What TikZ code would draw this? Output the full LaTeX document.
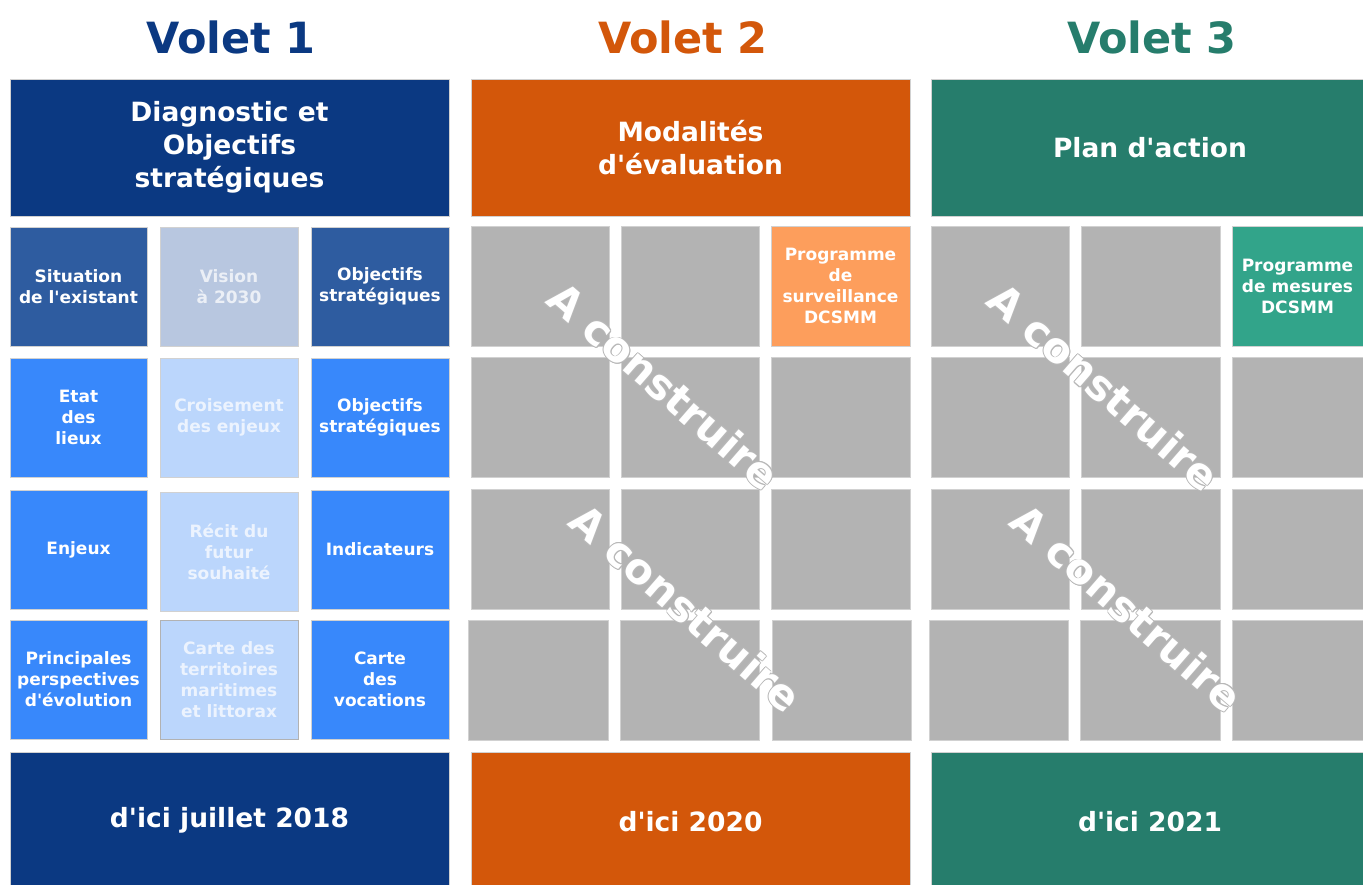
\documentclass[tikz,border=0pt]{standalone}
\usepackage{fontspec}
\setmainfont{DejaVu Sans}[Ligatures=TeXOff]
\usetikzlibrary{calc}

\definecolor{navy}{RGB}{11,57,130}
\definecolor{midblue}{RGB}{46,92,160}
\definecolor{paleblue}{RGB}{184,199,224}
\definecolor{brightblue}{RGB}{56,136,251}
\definecolor{lightblue}{RGB}{187,214,252}
\definecolor{rust}{RGB}{211,87,10}
\definecolor{peach}{RGB}{253,158,92}
\definecolor{volgreen}{RGB}{38,125,108}
\definecolor{mint}{RGB}{50,164,138}
\definecolor{slab}{RGB}{179,179,179}

\tikzset{
  tile/.style={draw=black!18, line width=0.6pt, inner sep=0pt, align=center,
    text=white, font=\fontsize{17}{21}\selectfont\bfseries},
  faint/.style={tile, text opacity=0.72},
  head/.style={tile, font=\fontsize{26.5}{33}\selectfont\bfseries},
  title/.style={inner sep=0pt, font=\fontsize{43}{50}\selectfont\bfseries},
  stamptext/.style={rotate=-41, inner sep=0pt, font=\fontsize{42}{42}\selectfont\bfseries}
}

% style, name, x0, y0, x1, y1, text
\newcommand{\panel}[7]{%
  \pgfmathsetmacro\pw{#5-#3}\pgfmathsetmacro\ph{#6-#4}%
  \pgfmathsetmacro\pcx{(#3+#5)/2}\pgfmathsetmacro\pcy{(#4+#6)/2}%
  \node[#1, minimum width=\pw pt, minimum height=\ph pt] (#2) at (\pcx,\pcy) {#7};}

% diagonal "A construire" label with a thin grey rim
\newcommand{\stamp}[3]{%
  \foreach \a [count=\k] in {0,45,...,315}{%
    \node[stamptext, text=black!28] (#1-rim\k) at ($(#2,#3)+(\a:0.9)$) {A construire};}%
  \node[stamptext, text=white] (#1) at (#2,#3) {A construire};}

\begin{document}
\begin{tikzpicture}[x=1pt, y=-1pt]
\useasboundingbox (0,0) rectangle (1363,884);
\fill[white] (0,0) rectangle (1363,884);
\clip (0,0) rectangle (1363,884);

% ---- titles
\node[title, text=navy] (t1) at (231,37) {Volet 1};
\node[title, text=rust] (t2) at (683,37) {Volet 2};
\node[title, text=volgreen] (t3) at (1152,37) {Volet 3};

% ---- headers
\panel{head, fill=navy}{h1}{10}{79}{449}{216}{Diagnostic et\\Objectifs\\stratégiques}
\panel{head, fill=rust}{h2}{471}{79}{910}{216}{Modalités\\d'évaluation}
\panel{head, fill=volgreen}{h3}{931}{79}{1369}{216}{Plan d'action}

% ---- Volet 1 grid
\panel{tile, fill=midblue}{a11}{10}{227}{147}{346}{Situation\\de l'existant}
\panel{faint, fill=paleblue}{a12}{160}{227}{298}{346}{Vision\\à 2030}
\panel{tile, fill=midblue}{a13}{311}{227}{449}{346}{Objectifs\\stratégiques}

\panel{tile, fill=brightblue}{a21}{10}{358}{147}{477}{Etat\\des\\lieux}
\panel{faint, fill=lightblue}{a22}{160}{358}{298}{477}{Croisement\\des enjeux}
\panel{tile, fill=brightblue}{a23}{311}{358}{449}{477}{Objectifs\\stratégiques}

\panel{tile, fill=brightblue}{a31}{10}{490}{147}{609}{Enjeux}
\panel{faint, fill=lightblue}{a32}{160}{492}{298}{611}{Récit du\\futur\\souhaité}
\panel{tile, fill=brightblue}{a33}{311}{490}{449}{609}{Indicateurs}

\panel{tile, fill=brightblue}{a41}{10}{620}{147}{739}{Principales\\perspectives\\d'évolution}
\panel{faint, fill=lightblue, draw=black!30}{a42}{160}{620}{298}{739}{Carte des\\territoires\\maritimes\\et littorax}
\panel{tile, fill=brightblue}{a43}{311}{620}{449}{739}{Carte\\des\\vocations}

% ---- Volet 2 grid
\panel{tile, fill=slab}{b11}{471}{226}{609}{346}{}
\panel{tile, fill=slab}{b12}{621}{226}{759}{346}{}
\panel{tile, fill=peach}{b13}{771}{226}{910}{346}{Programme\\de\\surveillance\\DCSMM}
\panel{tile, fill=slab}{b21}{471}{357}{609}{477}{}
\panel{tile, fill=slab}{b22}{621}{357}{759}{477}{}
\panel{tile, fill=slab}{b23}{771}{357}{910}{477}{}
\panel{tile, fill=slab}{b31}{471}{489}{609}{609}{}
\panel{tile, fill=slab}{b32}{621}{489}{759}{609}{}
\panel{tile, fill=slab}{b33}{771}{489}{910}{609}{}
\panel{tile, fill=slab}{b41}{468}{620}{608}{740}{}
\panel{tile, fill=slab}{b42}{620}{620}{759}{740}{}
\panel{tile, fill=slab}{b43}{772}{620}{911}{740}{}

% ---- Volet 3 grid
\panel{tile, fill=slab}{c11}{931}{226}{1069}{346}{}
\panel{tile, fill=slab}{c12}{1081}{226}{1220}{346}{}
\panel{tile, fill=mint}{c13}{1232}{226}{1375}{346}{\hspace*{-12pt}Programme\\\hspace*{-12pt}de mesures\\\hspace*{-12pt}DCSMM}
\panel{tile, fill=slab}{c21}{931}{357}{1069}{477}{}
\panel{tile, fill=slab}{c22}{1081}{357}{1220}{477}{}
\panel{tile, fill=slab}{c23}{1232}{357}{1375}{477}{}
\panel{tile, fill=slab}{c31}{931}{489}{1069}{609}{}
\panel{tile, fill=slab}{c32}{1081}{489}{1220}{609}{}
\panel{tile, fill=slab}{c33}{1232}{489}{1375}{609}{}
\panel{tile, fill=slab}{c41}{929}{620}{1068}{740}{}
\panel{tile, fill=slab}{c42}{1080}{620}{1220}{740}{}
\panel{tile, fill=slab}{c43}{1232}{620}{1375}{740}{}

% ---- deadlines
\panel{head, fill=navy}{d1}{10}{752}{449}{888}{d'ici juillet 2018}
\panel{head, fill=rust}{d2}{471}{752}{910}{892}{d'ici 2020}
\panel{head, fill=volgreen}{d3}{931}{752}{1369}{892}{d'ici 2021}

% ---- work in progress labels
\stamp{s1}{664}{386}
\stamp{s2}{686}{608}
\stamp{s3}{1104}{387}
\stamp{s4}{1127}{608}
\end{tikzpicture}
\end{document}
